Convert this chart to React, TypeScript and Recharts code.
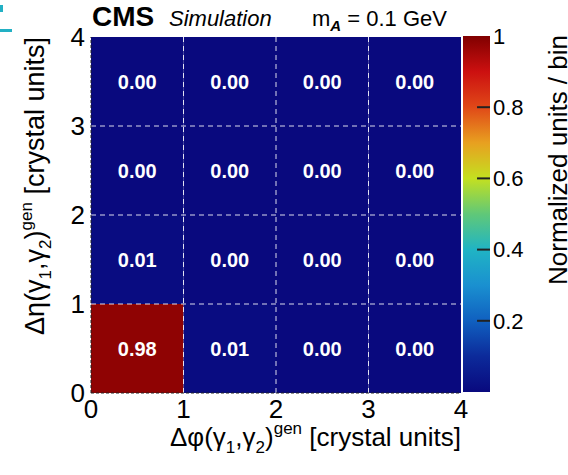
import React from 'react';
import { ScatterChart, ComposedChart, XAxis, YAxis, ReferenceArea, ReferenceLine, Label } from 'recharts';

// ---- data ----
const phiBins = [0, 1, 2, 3];
const etaBins = [0, 1, 2, 3];
const rowEta0 = [0.98, 0.01, 0.0, 0.0];
const rowEta1 = [0.01, 0.0, 0.0, 0.0];
const rowEta2 = [0.0, 0.0, 0.0, 0.0];
const rowEta3 = [0.0, 0.0, 0.0, 0.0];
const rows = [rowEta0, rowEta1, rowEta2, rowEta3];
const axisTicks = [0, 1, 2, 3, 4];
const gridLines = [1, 2, 3];
const colorTicks = [0.2, 0.4, 0.6, 0.8, 1];
const colorMarks = [0.2, 0.4, 0.6, 0.8];

// ---- palette ----
const stops: [number, string][] = [
  [0.0, '#09097e'],
  [0.1, '#0c2a9a'],
  [0.2, '#1060c0'],
  [0.3, '#1a90d0'],
  [0.4, '#20b4c4'],
  [0.5, '#60c878'],
  [0.6, '#c4e020'],
  [0.7, '#e8a020'],
  [0.8, '#e04818'],
  [0.9, '#cc1010'],
  [1.0, '#800000'],
];
const hex = (s: string) => [1, 3, 5].map((i) => parseInt(s.slice(i, i + 2), 16));
const colorOf = (v: number) => {
  for (let i = 0; i < stops.length - 1; i++) {
    const [a, ca] = stops[i];
    const [b, cb] = stops[i + 1];
    if (v >= a && v <= b) {
      const t = (v - a) / (b - a);
      const A = hex(ca), B = hex(cb);
      const c = A.map((x, k) => Math.round(x + (B[k] - x) * t));
      return `rgb(${c[0]},${c[1]},${c[2]})`;
    }
  }
  return stops[stops.length - 1][1];
};

const cells = etaBins.flatMap((eta, r) =>
  phiBins.map((phi, c) => ({ x0: phi, y0: eta, v: rows[r][c] }))
);

const FONT = '"Liberation Sans", Arial, Helvetica, sans-serif';

const XTitle = () => (
  <text x={461} y={446} textAnchor="end" fontSize={26} fill="#000" fontFamily={FONT}>
    Δφ(γ
    <tspan fontSize={17} dy={7}>1</tspan>
    <tspan dy={-7}>,γ</tspan>
    <tspan fontSize={17} dy={7}>2</tspan>
    <tspan dy={-7}>)</tspan>
    <tspan fontSize={17} dy={-12}>gen</tspan>
    <tspan dy={12}> [crystal units]</tspan>
  </text>
);

const YTitle = () => (
  <text
    x={0}
    y={0}
    transform="translate(44,37) rotate(-90)"
    textAnchor="end"
    fontSize={27}
    fill="#000"
    fontFamily={FONT}
  >
    Δη(γ
    <tspan fontSize={17} dy={7}>1</tspan>
    <tspan dy={-7}>,γ</tspan>
    <tspan fontSize={17} dy={7}>2</tspan>
    <tspan dy={-7}>)</tspan>
    <tspan fontSize={17} dy={-12}>gen</tspan>
    <tspan dy={12}> [crystal units]</tspan>
  </text>
);

const ZTitle = () => (
  <text
    x={0}
    y={0}
    transform="translate(127,35) rotate(-90)"
    textAnchor="end"
    fontSize={26}
    fill="#000"
    fontFamily={FONT}
  >
    Normalized units / bin
  </text>
);

export default function App() {
  return (
    <div
      style={{
        position: 'absolute',
        left: 0,
        top: 0,
        width: 568,
        height: 475,
        background: '#fff',
        fontFamily: FONT,
        overflow: 'hidden',
      }}
    >
      <div style={{ position: 'absolute', left: 0, top: 5, width: 3, height: 7, background: '#22b0c4' }} />
      <div style={{ position: 'absolute', left: 0, top: 29, width: 12, height: 3, background: '#22b0c4' }} />

      <div style={{ position: 'absolute', left: 0, top: 0 }}>
        <ScatterChart width={568} height={475} margin={{ top: 37, right: 107, bottom: 52, left: 51 }}>
          <XAxis
            type="number"
            dataKey="x"
            domain={[0, 4]}
            ticks={axisTicks}
            interval={0}
            allowDataOverflow
            height={30}
            tickSize={0}
            tickMargin={7}
            axisLine={false}
            tick={{ fill: '#000', fontSize: 26 }}
          >
            <Label content={<XTitle />} />
          </XAxis>
          <YAxis
            type="number"
            dataKey="y"
            domain={[0, 4]}
            ticks={axisTicks}
            interval={0}
            allowDataOverflow
            width={40}
            tickSize={0}
            tickMargin={6}
            axisLine={false}
            tick={{ fill: '#000', fontSize: 26 }}
          >
            <Label content={<YTitle />} />
          </YAxis>
          {cells.map((c, i) => (
            <ReferenceArea
              key={`c${i}`}
              x1={c.x0}
              x2={c.x0 + 1}
              y1={c.y0}
              y2={c.y0 + 1}
              fill={colorOf(c.v)}
              fillOpacity={1}
              stroke="none"
              ifOverflow="visible"
              label={{
                value: c.v.toFixed(2),
                position: 'center',
                fill: '#fff',
                fontSize: 20,
                fontWeight: 'bold',
              }}
            />
          ))}
          {gridLines.map((g) => (
            <ReferenceLine key={`gx${g}`} x={g} stroke="#fff" strokeOpacity={0.85} strokeDasharray="5 4" />
          ))}
          {gridLines.map((g) => (
            <ReferenceLine key={`gy${g}`} y={g} stroke="#fff" strokeOpacity={0.85} strokeDasharray="5 4" />
          ))}
          <ReferenceLine y={0} stroke="#222" strokeDasharray="3 2" />
          <ReferenceLine x={0} stroke="#222" strokeDasharray="3 2" />
        </ScatterChart>
      </div>

      <div style={{ position: 'absolute', left: 440, top: 0 }}>
        <ComposedChart width={128} height={475} margin={{ top: 36, right: 38, bottom: 83, left: 23 }}>
          <defs>
            <linearGradient id="palette" x1="0" y1="1" x2="0" y2="0">
              {stops.map(([o, c]) => (
                <stop key={o} offset={`${o * 100}%`} stopColor={c} />
              ))}
            </linearGradient>
          </defs>
          <XAxis type="number" dataKey="x" domain={[0, 1]} hide allowDataOverflow />
          <YAxis
            type="number"
            orientation="right"
            dataKey="z"
            domain={[0, 1]}
            ticks={colorTicks}
            interval={0}
            allowDataOverflow
            width={40}
            tickSize={0}
            tickMargin={3}
            axisLine={false}
            tick={{ fill: '#000', fontSize: 22 }}
          >
            <Label content={<ZTitle />} />
          </YAxis>
          <ReferenceArea x1={0} x2={1} y1={0} y2={1} fill="url(#palette)" fillOpacity={1} stroke="none" ifOverflow="visible" />
          {colorMarks.map((t) => (
            <ReferenceLine
              key={`m${t}`}
              segment={[
                { x: 0.52, y: t },
                { x: 1, y: t },
              ]}
              stroke="#222"
              strokeWidth={2}
            />
          ))}
        </ComposedChart>
      </div>

      <svg
        width={568}
        height={475}
        style={{ position: 'absolute', left: 0, top: 0, pointerEvents: 'none' }}
        fontFamily={FONT}
      >
        <text x={92} y={26} fontSize={28} fontWeight="bold" fill="#000">
          CMS
        </text>
        <text x={169} y={26} fontSize={22} fontStyle="italic" fill="#000">
          Simulation
        </text>
        <text x={312} y={26} fontSize={22} fill="#000">
          m
          <tspan fontSize={15} fontStyle="italic" fontWeight="bold" dy={5}>A</tspan>
          <tspan dy={-5}> = 0.1 GeV</tspan>
        </text>
      </svg>
    </div>
  );
}
